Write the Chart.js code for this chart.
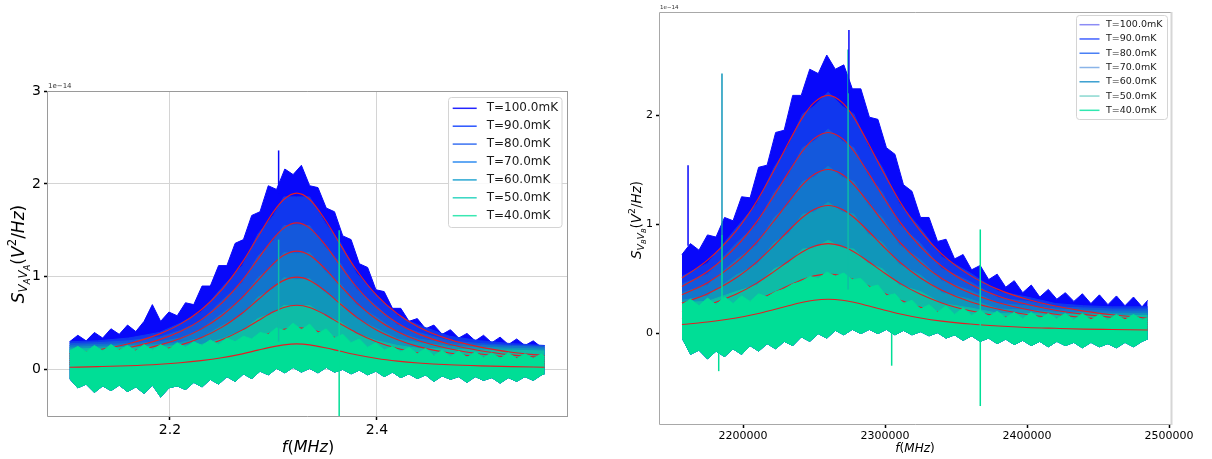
<!DOCTYPE html>
<html lang="en">
<head>
<meta charset="UTF-8">
<title>S_VV spectra vs temperature</title>
<script src="https://cdn.jsdelivr.net/npm/chart.js"></script>
<style>
  body { margin: 0; background: #fff; }
  #wrap { position: relative; width: 1212px; height: 459px; }
  #chartA { position: absolute; left: 0; top: 0; }
  #chartB { position: absolute; left: 600px; top: 0; }
</style>
</head>
<body>
<div id="wrap">
  <canvas id="chartA" width="600" height="459"></canvas>
  <canvas id="chartB" width="612" height="459"></canvas>
</div>
<script>
// ---------- data (values in units of 1e-14 V^2/Hz) ----------
const temps = ['T=100.0mK', 'T=90.0mK', 'T=80.0mK', 'T=70.0mK', 'T=60.0mK', 'T=50.0mK', 'T=40.0mK'];

// left panel, frequency in MHz
const freqA = [2.103, 2.111, 2.119, 2.127, 2.135, 2.143, 2.151, 2.159, 2.167, 2.175,
  2.183, 2.191, 2.199, 2.207, 2.215, 2.223, 2.231, 2.239, 2.247, 2.255,
  2.263, 2.271, 2.279, 2.287, 2.295, 2.303, 2.311, 2.319, 2.327, 2.335,
  2.343, 2.351, 2.359, 2.367, 2.375, 2.383, 2.391, 2.399, 2.407, 2.415,
  2.423, 2.431, 2.439, 2.447, 2.455, 2.463, 2.471, 2.479, 2.487, 2.495,
  2.503, 2.511, 2.519, 2.527, 2.535, 2.543, 2.551, 2.559, 2.562];
const lowerA = [-0.10, -0.20, -0.16, -0.25, -0.18, -0.23, -0.17, -0.24, -0.19, -0.26,
  -0.17, -0.30, -0.20, -0.18, -0.22, -0.14, -0.19, -0.11, -0.16, -0.08,
  -0.13, -0.05, -0.10, -0.02, -0.06, 0.01, -0.04, 0.02, -0.03, 0.01,
  -0.04, 0.02, -0.03, 0.00, -0.05, -0.01, -0.06, -0.02, -0.08, -0.03,
  -0.09, -0.05, -0.10, -0.06, -0.13, -0.07, -0.11, -0.08, -0.14, -0.08,
  -0.12, -0.09, -0.15, -0.09, -0.13, -0.08, -0.12, -0.06, -0.05];
const upperA100 = [0.30, 0.37, 0.31, 0.40, 0.34, 0.44, 0.38, 0.48, 0.41, 0.52,
  0.70, 0.52, 0.62, 0.58, 0.72, 0.70, 0.90, 0.90, 1.12, 1.12,
  1.36, 1.40, 1.66, 1.70, 1.98, 1.94, 2.16, 2.10, 2.20, 1.98,
  1.96, 1.74, 1.70, 1.44, 1.40, 1.14, 1.10, 0.86, 0.84, 0.66,
  0.66, 0.52, 0.55, 0.44, 0.48, 0.38, 0.43, 0.34, 0.39, 0.31,
  0.37, 0.29, 0.35, 0.27, 0.33, 0.26, 0.31, 0.24, 0.26];
const upperA40 = [0.20, 0.25, 0.19, 0.26, 0.20, 0.27, 0.21, 0.26, 0.20, 0.27,
  0.21, 0.27, 0.22, 0.29, 0.24, 0.30, 0.26, 0.32, 0.27, 0.34,
  0.30, 0.36, 0.33, 0.40, 0.38, 0.45, 0.42, 0.50, 0.43, 0.49,
  0.39, 0.44, 0.34, 0.38, 0.29, 0.33, 0.24, 0.29, 0.21, 0.25,
  0.19, 0.24, 0.17, 0.23, 0.15, 0.21, 0.14, 0.20, 0.13, 0.19,
  0.13, 0.18, 0.12, 0.18, 0.12, 0.17, 0.12, 0.17, 0.14];
const fitFreqA = [2.103, 2.13, 2.16, 2.19, 2.21, 2.23, 2.25, 2.27, 2.285, 2.30, 2.31, 2.3225,
  2.335, 2.35, 2.365, 2.38, 2.40, 2.42, 2.44, 2.47, 2.50, 2.53, 2.562];
const upperA90 = [0.30, 0.31, 0.34, 0.40, 0.50, 0.62, 0.88, 1.12, 1.46, 1.66, 1.86, 1.86, 1.86, 1.58, 1.36, 1.04, 0.80, 0.58, 0.48, 0.36, 0.31, 0.28, 0.26];
const upperA80 = [0.28, 0.29, 0.31, 0.35, 0.42, 0.52, 0.74, 0.94, 1.22, 1.39, 1.55, 1.56, 1.55, 1.32, 1.14, 0.87, 0.68, 0.48, 0.40, 0.31, 0.28, 0.26, 0.25];
const upperA70 = [0.26, 0.27, 0.28, 0.30, 0.34, 0.43, 0.60, 0.76, 0.99, 1.12, 1.26, 1.25, 1.26, 1.06, 0.92, 0.70, 0.56, 0.40, 0.33, 0.28, 0.26, 0.25, 0.24];
const upperA60 = [0.24, 0.25, 0.26, 0.27, 0.29, 0.34, 0.47, 0.59, 0.78, 0.87, 0.99, 0.97, 0.98, 0.83, 0.72, 0.55, 0.44, 0.33, 0.29, 0.25, 0.24, 0.23, 0.22];
const upperA50 = [0.22, 0.23, 0.24, 0.25, 0.26, 0.27, 0.33, 0.42, 0.55, 0.61, 0.69, 0.68, 0.69, 0.58, 0.51, 0.39, 0.31, 0.26, 0.23, 0.22, 0.21, 0.21, 0.20];
const fitA100 = [0.172, 0.212, 0.279, 0.385, 0.49, 0.642, 0.858, 1.157, 1.43, 1.699, 1.832, 1.90, 1.832, 1.614, 1.338, 1.075, 0.796, 0.599, 0.46, 0.326, 0.242, 0.187, 0.15];
const fitA90 = [0.146, 0.179, 0.235, 0.323, 0.41, 0.536, 0.716, 0.964, 1.19, 1.413, 1.524, 1.58, 1.524, 1.343, 1.114, 0.895, 0.664, 0.50, 0.385, 0.274, 0.204, 0.159, 0.128];
const fitA80 = [0.122, 0.148, 0.193, 0.264, 0.334, 0.436, 0.58, 0.78, 0.962, 1.142, 1.231, 1.276, 1.231, 1.085, 0.90, 0.725, 0.539, 0.407, 0.314, 0.225, 0.168, 0.132, 0.107];
const fitA70 = [0.099, 0.12, 0.155, 0.209, 0.264, 0.343, 0.455, 0.61, 0.752, 0.892, 0.961, 0.996, 0.961, 0.848, 0.704, 0.568, 0.423, 0.321, 0.248, 0.179, 0.135, 0.107, 0.087];
const fitA60 = [0.075, 0.089, 0.113, 0.151, 0.189, 0.243, 0.321, 0.428, 0.526, 0.622, 0.67, 0.694, 0.67, 0.592, 0.492, 0.398, 0.298, 0.228, 0.178, 0.13, 0.10, 0.08, 0.066];
const fitA50 = [0.055, 0.064, 0.079, 0.103, 0.128, 0.162, 0.212, 0.28, 0.343, 0.404, 0.435, 0.45, 0.435, 0.385, 0.321, 0.261, 0.198, 0.152, 0.121, 0.09, 0.071, 0.058, 0.05];
const fitA40 = [0.025, 0.032, 0.042, 0.058, 0.074, 0.097, 0.128, 0.17, 0.21, 0.248, 0.267, 0.277, 0.267, 0.236, 0.197, 0.16, 0.12, 0.092, 0.072, 0.052, 0.04, 0.032, 0.026];
const spikeFreqA = [2.305, 2.305, 2.3635];
const spikeLowA = [1.90, 0.30, -0.55];
const spikeHighA = [2.36, 1.40, 1.50];
const spikeSeriesA = [0, 5, 6];

// right panel, frequency axis as printed (2200000 ...)
const freqB = [2157000, 2163000, 2169000, 2175000, 2181000, 2187000, 2193000, 2199000, 2205000, 2211000,
  2217000, 2223000, 2229000, 2235000, 2241000, 2247000, 2253000, 2259000, 2265000, 2271000,
  2277000, 2283000, 2289000, 2295000, 2301000, 2307000, 2313000, 2319000, 2325000, 2331000,
  2337000, 2343000, 2349000, 2355000, 2361000, 2367000, 2373000, 2379000, 2385000, 2391000,
  2397000, 2403000, 2409000, 2415000, 2421000, 2427000, 2433000, 2439000, 2445000, 2451000,
  2457000, 2463000, 2469000, 2475000, 2481000, 2485000];
const lowerB = [-0.05, -0.20, -0.16, -0.24, -0.17, -0.22, -0.15, -0.20, -0.12, -0.17,
  -0.10, -0.15, -0.08, -0.12, -0.04, -0.08, -0.01, -0.05, 0.02, -0.02,
  0.03, -0.01, 0.03, -0.01, 0.03, -0.02, 0.02, -0.02, 0.01, -0.03,
  0.00, -0.05, -0.02, -0.07, -0.03, -0.08, -0.05, -0.10, -0.06, -0.11,
  -0.07, -0.12, -0.08, -0.13, -0.08, -0.12, -0.09, -0.14, -0.09, -0.13,
  -0.10, -0.14, -0.09, -0.13, -0.08, -0.06];
const upperB100 = [0.72, 0.82, 0.76, 0.90, 0.88, 1.06, 1.03, 1.25, 1.24, 1.52,
  1.54, 1.84, 1.86, 2.18, 2.18, 2.42, 2.38, 2.55, 2.42, 2.46,
  2.24, 2.24, 1.98, 1.96, 1.70, 1.64, 1.36, 1.30, 1.06, 1.06,
  0.84, 0.86, 0.68, 0.72, 0.58, 0.62, 0.49, 0.54, 0.42, 0.48,
  0.37, 0.44, 0.33, 0.40, 0.31, 0.37, 0.29, 0.36, 0.27, 0.35,
  0.26, 0.34, 0.25, 0.33, 0.24, 0.30];
const upperB40 = [0.26, 0.31, 0.25, 0.32, 0.26, 0.33, 0.27, 0.34, 0.29, 0.36,
  0.33, 0.38, 0.40, 0.45, 0.47, 0.52, 0.50, 0.56, 0.52, 0.55,
  0.49, 0.50, 0.42, 0.44, 0.34, 0.36, 0.27, 0.30, 0.22, 0.26,
  0.19, 0.25, 0.17, 0.23, 0.16, 0.21, 0.15, 0.20, 0.14, 0.19,
  0.13, 0.19, 0.13, 0.18, 0.13, 0.18, 0.12, 0.18, 0.12, 0.17,
  0.12, 0.17, 0.12, 0.17, 0.12, 0.14];
const fitFreqB = [2157000, 2175000, 2195000, 2210000, 2222000, 2232000, 2242000, 2250000, 2260000, 2270000, 2278000, 2288000,
  2298000, 2310000, 2325000, 2340000, 2360000, 2380000, 2400000, 2420000, 2440000, 2460000, 2485000];
const upperB90 = [0.52, 0.64, 0.96, 1.19, 1.52, 1.72, 2.01, 2.08, 2.21, 2.08, 2.01, 1.72, 1.52, 1.19, 0.96, 0.70, 0.55, 0.38, 0.33, 0.27, 0.25, 0.24, 0.24];
const upperB80 = [0.45, 0.54, 0.82, 1.00, 1.29, 1.45, 1.70, 1.76, 1.87, 1.76, 1.70, 1.45, 1.29, 1.00, 0.82, 0.59, 0.47, 0.32, 0.29, 0.24, 0.23, 0.22, 0.22];
const upperB70 = [0.37, 0.44, 0.67, 0.81, 1.06, 1.18, 1.39, 1.43, 1.53, 1.43, 1.39, 1.18, 1.06, 0.81, 0.67, 0.48, 0.39, 0.27, 0.25, 0.22, 0.21, 0.20, 0.20];
const upperB60 = [0.30, 0.34, 0.53, 0.63, 0.83, 0.91, 1.09, 1.11, 1.20, 1.11, 1.09, 0.91, 0.83, 0.63, 0.53, 0.37, 0.31, 0.22, 0.21, 0.19, 0.19, 0.18, 0.18];
const upperB50 = [0.28, 0.29, 0.38, 0.44, 0.59, 0.64, 0.77, 0.78, 0.85, 0.78, 0.77, 0.64, 0.59, 0.44, 0.38, 0.27, 0.23, 0.18, 0.18, 0.17, 0.17, 0.16, 0.16];
const fitB100 = [0.505, 0.668, 0.934, 1.216, 1.496, 1.746, 1.978, 2.113, 2.18, 2.113, 1.978, 1.746, 1.496, 1.216, 0.934, 0.724, 0.529, 0.398, 0.309, 0.247, 0.201, 0.168, 0.137];
const fitB90 = [0.427, 0.564, 0.79, 1.027, 1.264, 1.474, 1.67, 1.783, 1.84, 1.783, 1.67, 1.474, 1.264, 1.027, 0.79, 0.612, 0.447, 0.338, 0.263, 0.209, 0.171, 0.143, 0.117];
const fitB80 = [0.35, 0.461, 0.645, 0.838, 1.031, 1.202, 1.361, 1.454, 1.50, 1.454, 1.361, 1.202, 1.031, 0.838, 0.645, 0.50, 0.366, 0.277, 0.216, 0.172, 0.141, 0.118, 0.097];
const fitB70 = [0.274, 0.361, 0.504, 0.655, 0.805, 0.938, 1.062, 1.134, 1.17, 1.134, 1.062, 0.938, 0.805, 0.655, 0.504, 0.392, 0.287, 0.218, 0.17, 0.136, 0.112, 0.094, 0.078];
const fitB60 = [0.195, 0.255, 0.355, 0.46, 0.565, 0.658, 0.745, 0.795, 0.82, 0.795, 0.745, 0.658, 0.565, 0.46, 0.355, 0.276, 0.204, 0.155, 0.122, 0.098, 0.081, 0.069, 0.057];
const fitB50 = [0.131, 0.171, 0.236, 0.305, 0.373, 0.434, 0.491, 0.524, 0.54, 0.524, 0.491, 0.434, 0.373, 0.305, 0.236, 0.184, 0.137, 0.105, 0.083, 0.068, 0.057, 0.049, 0.041];
const fitB40 = [0.078, 0.101, 0.138, 0.177, 0.216, 0.25, 0.282, 0.301, 0.31, 0.301, 0.282, 0.25, 0.216, 0.177, 0.138, 0.109, 0.082, 0.064, 0.051, 0.043, 0.036, 0.032, 0.027];
const spikeFreqB = [2161300, 2185200, 2185200, 2274600, 2274000, 2367100, 2182900, 2304700];
const spikeLowB = [0.80, 0.90, 0.25, 2.20, 0.40, -0.67, -0.35, -0.30];
const spikeHighB = [1.54, 2.38, 0.90, 2.78, 2.60, 0.95, -0.10, 0.00];
const spikeSeriesB = [0, 4, 6, 0, 5, 6, 6, 6];

// ---------- styles ----------
const bandColors = ['rgb(8,8,250)', 'rgb(16,55,238)', 'rgb(20,88,220)', 'rgb(18,118,204)',
  'rgb(16,150,186)', 'rgb(14,188,166)', 'rgb(0,222,150)'];
const legendColorsA = ['#2424ff', '#2a55ff', '#3a72f2', '#2f8cf0', '#2aa8d2', '#35d6c2', '#3ae8b2'];
const legendColorsB = ['#8c8cf5', '#4060ff', '#4a80f5', '#8ab4e8', '#3a9fd0', '#8ad8d0', '#30e8b0'];
const FONT = '"DejaVu Sans", sans-serif';

function pts(xs, ys) { return xs.map((x, i) => ({ x: x, y: ys[i] })); }

// warm bands first, then the fits, then the coldest band and its fit on top
function buildDatasets(freq, lower, fitFreq, uppers, fits, sF, sLo, sHi, sSer) {
  const last = uppers.length - 1;
  const ds = [{ data: pts(freq, lower), borderColor: 'rgba(0,0,0,0)', borderWidth: 0,
    pointRadius: 0, fill: false, order: 40 }];
  uppers.forEach((u, i) => {
    ds.push({ data: pts(u.length === freq.length ? freq : fitFreq, u),
      borderColor: bandColors[i], backgroundColor: bandColors[i], borderWidth: 1,
      pointRadius: 0, fill: 0, order: i === last ? 12 : 30 - i });
    ds.push({ data: pts(fitFreq, fits[i]), borderColor: 'rgb(228,28,36)', borderWidth: 1.1,
      pointRadius: 0, fill: false, cubicInterpolationMode: 'monotone', order: i === last ? 10 : 15 });
  });
  sF.forEach((f, i) => {
    ds.push({ data: [{ x: f, y: sLo[i] }, { x: f, y: sHi[i] }], borderColor: bandColors[sSer[i]],
      borderWidth: 1.5, pointRadius: 0, fill: false, order: 8 });
  });
  return ds;
}

function richText(ctx, parts, cx, cy, vertical) {
  ctx.save();
  ctx.translate(cx, cy);
  if (vertical) ctx.rotate(-Math.PI / 2);
  const fontOf = p => (p.it ? 'italic ' : '') + p.s + 'px ' + FONT;
  let w = 0;
  parts.forEach(p => { ctx.font = fontOf(p); w += ctx.measureText(p.t).width; });
  let x = -w / 2;
  ctx.fillStyle = '#000';
  ctx.textBaseline = 'alphabetic';
  parts.forEach(p => { ctx.font = fontOf(p); ctx.fillText(p.t, x, p.dy); x += ctx.measureText(p.t).width; });
  ctx.restore();
}

function yTitleParts(s, sub) {
  const k = s / 18;
  return [
    { t: 'S', s: s, dy: 6 * k, it: true },
    { t: 'V', s: 12.5 * k, dy: 10 * k, it: true }, { t: sub, s: 9 * k, dy: 13 * k, it: true },
    { t: 'V', s: 12.5 * k, dy: 10 * k, it: true }, { t: sub, s: 9 * k, dy: 13 * k, it: true },
    { t: '(', s: s, dy: 6 * k }, { t: 'V', s: s, dy: 6 * k, it: true },
    { t: '2', s: 12.5 * k, dy: -2 * k }, { t: '/', s: s, dy: 6 * k },
    { t: 'Hz', s: s, dy: 6 * k, it: true }, { t: ')', s: s, dy: 6 * k }
  ];
}
function xTitleParts(s) {
  const d = s * 0.35;
  return [{ t: 'f', s: s, dy: d, it: true }, { t: '(', s: s, dy: d },
    { t: 'MHz', s: s, dy: d, it: true }, { t: ')', s: s, dy: d }];
}

function drawLegend(ctx, L) {
  ctx.save();
  ctx.fillStyle = 'rgba(255,255,255,0.85)';
  ctx.strokeStyle = '#d4d4d4';
  ctx.lineWidth = 1;
  ctx.beginPath();
  if (ctx.roundRect) ctx.roundRect(L.x, L.y, L.w, L.h, 3); else ctx.rect(L.x, L.y, L.w, L.h);
  ctx.fill();
  ctx.stroke();
  ctx.font = L.font + 'px ' + FONT;
  ctx.textBaseline = 'middle';
  temps.forEach((lab, i) => {
    const y = L.row0 + i * L.gap;
    ctx.strokeStyle = L.colors[i];
    ctx.lineWidth = 1.5;
    ctx.beginPath(); ctx.moveTo(L.lx0, y); ctx.lineTo(L.lx1, y); ctx.stroke();
    ctx.fillStyle = '#1a1a1a';
    ctx.fillText(lab, L.tx, y);
  });
  ctx.restore();
}

function decor(cfg) {
  return {
    id: 'decor' + cfg.name,
    afterDraw(chart) {
      const ctx = chart.ctx, a = chart.chartArea;
      ctx.save();
      ctx.lineWidth = 1;
      ctx.strokeStyle = cfg.spine;
      ctx.beginPath();
      ctx.moveTo(a.right, a.top + 0.5); ctx.lineTo(a.left + 0.5, a.top + 0.5);
      ctx.lineTo(a.left + 0.5, a.bottom - 0.5); ctx.lineTo(a.right, a.bottom - 0.5);
      ctx.stroke();
      ctx.strokeStyle = cfg.rightSpine;
      ctx.lineWidth = cfg.rightWidth;
      ctx.beginPath(); ctx.moveTo(a.right - 0.5, a.top); ctx.lineTo(a.right - 0.5, a.bottom); ctx.stroke();
      ctx.fillStyle = '#333';
      ctx.font = cfg.offsetSize + 'px ' + FONT;
      ctx.textBaseline = 'alphabetic';
      ctx.fillText('1e\u221214', a.left + 1, a.top - 3);
      ctx.restore();
      richText(ctx, yTitleParts(cfg.ySize, cfg.sub), cfg.yTitle[0], cfg.yTitle[1], true);
      richText(ctx, xTitleParts(cfg.xSize), cfg.xTitle[0], cfg.xTitle[1], false);
      drawLegend(ctx, cfg.legend);
    }
  };
}

function makeChart(id, datasets, o) {
  return new Chart(document.getElementById(id), {
    type: 'line',
    data: { datasets: datasets },
    options: {
      responsive: false,
      animation: false,
      events: [],
      devicePixelRatio: 1,
      layout: { padding: o.padding },
      plugins: { legend: { display: false }, tooltip: { enabled: false } },
      scales: {
        x: {
          type: 'linear', min: o.xMin, max: o.xMax,
          afterBuildTicks: s => { s.ticks = o.xTicks.map(v => ({ value: v })); },
          afterFit: s => { s.height = o.xHeight; },
          ticks: { font: { family: FONT, size: o.tickSize }, color: '#000', padding: 2,
            maxRotation: 0, callback: o.xFmt },
          grid: { color: '#d4d4d4', drawOnChartArea: o.grid, tickLength: 3, tickColor: '#000', tickWidth: 1.5 },
          border: { display: false }
        },
        y: {
          type: 'linear', min: o.yMin, max: o.yMax,
          afterBuildTicks: s => { s.ticks = o.yTicks.map(v => ({ value: v })); },
          afterFit: s => { s.width = o.yWidth; },
          ticks: { font: { family: FONT, size: o.tickSize }, color: '#000', padding: 3,
            callback: v => String(v) },
          grid: { color: '#d4d4d4', drawOnChartArea: o.grid, tickLength: 3, tickColor: '#000', tickWidth: 1.5 },
          border: { display: false }
        }
      }
    },
    plugins: [decor(o.decor)]
  });
}

makeChart('chartA',
  buildDatasets(freqA, lowerA, fitFreqA,
    [upperA100, upperA90, upperA80, upperA70, upperA60, upperA50, upperA40],
    [fitA100, fitA90, fitA80, fitA70, fitA60, fitA50, fitA40],
    spikeFreqA, spikeLowA, spikeHighA, spikeSeriesA),
  {
    padding: { left: 0, top: 91, right: 32, bottom: 0 }, xHeight: 42, yWidth: 47,
    xMin: 2.0812, xMax: 2.5846, yMin: -0.51, yMax: 3.0,
    xTicks: [2.2, 2.4], yTicks: [0, 1, 2, 3], xFmt: v => v.toFixed(1),
    tickSize: 14, grid: true,
    decor: { name: 'A', spine: '#9a9a9a', rightSpine: '#9a9a9a', rightWidth: 1, offsetSize: 7,
      sub: 'A', ySize: 17, yTitle: [18, 254], xSize: 16, xTitle: [308, 446],
      legend: { x: 448.5, y: 97.5, w: 113.5, h: 130, row0: 108.3, gap: 17.9,
        lx0: 452.7, lx1: 476.7, tx: 486.7, font: 12, colors: legendColorsA } }
  });

makeChart('chartB',
  buildDatasets(freqB, lowerB, fitFreqB,
    [upperB100, upperB90, upperB80, upperB70, upperB60, upperB50, upperB40],
    [fitB100, fitB90, fitB80, fitB70, fitB60, fitB50, fitB40],
    spikeFreqB, spikeLowB, spikeHighB, spikeSeriesB),
  {
    padding: { left: 0, top: 12, right: 40, bottom: 0 }, xHeight: 34, yWidth: 59,
    xMin: 2140845, xMax: 2502112, yMin: -0.844, yMax: 2.945,
    xTicks: [2200000, 2300000, 2400000, 2500000], yTicks: [0, 1, 2], xFmt: v => String(v),
    tickSize: 11, grid: false,
    decor: { name: 'B', spine: '#a8a8a8', rightSpine: '#d6d6d6', rightWidth: 2, offsetSize: 5.5,
      sub: 'B', ySize: 13.5, yTitle: [36, 220], xSize: 12, xTitle: [315, 448],
      legend: { x: 476.5, y: 15.5, w: 91, h: 104, row0: 24.7, gap: 14.27,
        lx0: 479.5, lx1: 499.5, tx: 506, font: 9.5, colors: legendColorsB } }
  });
</script>
</body>
</html>
